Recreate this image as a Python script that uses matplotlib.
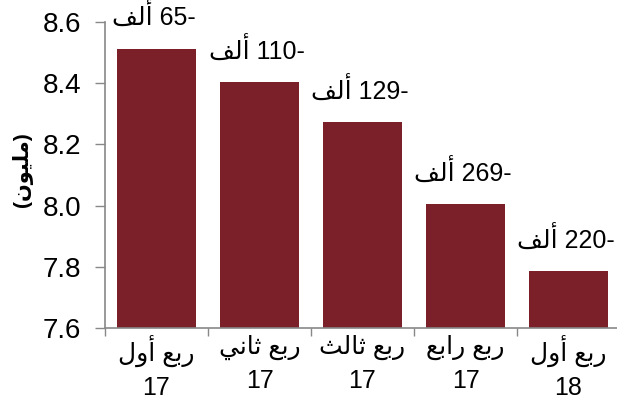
import numpy as np
import matplotlib
matplotlib.use('Agg')
import matplotlib.pyplot as plt

# Arabic text is stored already shaped (presentation forms, visual order),
# since matplotlib does no bidi reordering or joining on its own.
ALF = '\uFED2\uFEDF\uFE83'            # ألف
RUBA = '\uFECA\uFE91\uFEAD'            # ربع
AWWAL = '\uFEDD\uFEED\uFE83'           # أول
THANI = '\uFEF2\uFEE7\uFE8E\uFE9B'     # ثاني
THALITH = '\uFE9A\uFEDF\uFE8E\uFE9B'   # ثالث
RABI = '\uFECA\uFE91\uFE8D\uFEAD'      # رابع
MILYON = '(\uFEE5\uFEEE\uFEF4\uFEE0\uFEE3)'  # (مليون)

quarters = [AWWAL, THANI, THALITH, RABI, AWWAL]
years = ['17', '17', '17', '17', '18']
values = [8.513, 8.403, 8.274, 8.005, 7.785]
changes = [65, 110, 129, 269, 220]

plt.rcParams['font.family'] = ['Liberation Sans', 'DejaVu Sans']

fig = plt.figure(figsize=(6.17, 4.07), dpi=100)
ax = fig.add_axes([105 / 617, 79 / 407, 515 / 617, 306 / 407])

x = np.arange(len(values))
bars = ax.bar(x, values, width=0.76, color='#7B2029', zorder=2)

ax.set_ylim(7.6, 8.6)
ax.set_xlim(-0.5, len(values) - 0.5)
yt = np.arange(7.6, 8.61, 0.2)
ax.set_yticks(yt)
ax.set_yticklabels(['%.1f' % v for v in yt], fontsize=20)

# category boundaries carry the tick marks, centres carry the labels
ax.set_xticks(np.arange(-0.5, len(values), 1.0))
ax.set_xticklabels([])
ax.set_xticks(x, minor=True)
ax.set_xticklabels([f'{q} {RUBA}\n{y}' for q, y in zip(quarters, years)],
                   minor=True, fontsize=18, linespacing=1.45)
ax.tick_params(axis='x', which='minor', length=0, pad=5)
ax.tick_params(axis='x', which='major', length=6, color='#888888', width=1)
ax.tick_params(axis='y', length=7, color='#888888', width=1, pad=10)

for s in ['top', 'right']:
    ax.spines[s].set_visible(False)
for s in ['left', 'bottom']:
    ax.spines[s].set_color('#888888')
    ax.spines[s].set_linewidth(1.2)

for xi, v, c in zip(x, values, changes):
    ax.annotate(f'{ALF} {c}-', (xi, v), xytext=(-3, 32),
                textcoords='offset pixels', ha='center', va='center',
                fontsize=18)

fig.text(22 / 617, 1 - 170 / 407, MILYON, rotation=90, ha='center',
         va='center', fontsize=15, fontweight='bold')

fig.savefig('out.png', dpi=100)
